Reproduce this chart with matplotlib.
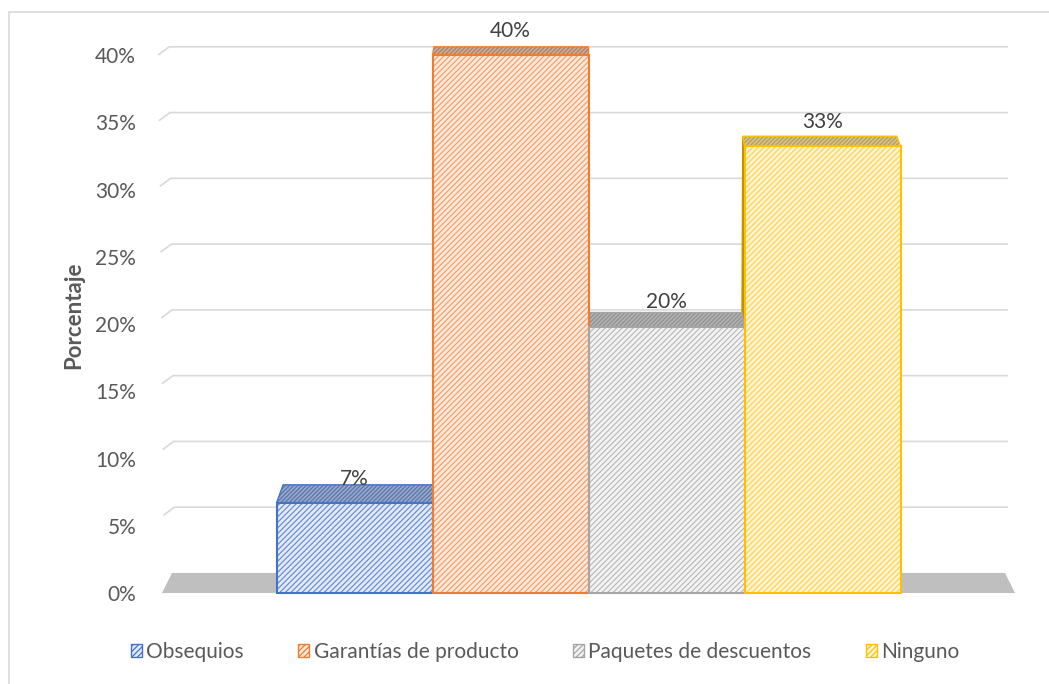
import numpy as np
import matplotlib
matplotlib.use("Agg")
import matplotlib.pyplot as plt
from matplotlib.patches import Polygon, Rectangle, Patch

plt.rcParams['font.family'] = ['Lato', 'DejaVu Sans']
plt.rcParams['hatch.linewidth'] = 0.9

# Data
categorias = ["Obsequios", "Garantías de producto", "Paquetes de descuentos", "Ninguno"]
valores = [6.7, 40.0, 19.8, 33.2]
etiquetas = ["7%", "40%", "20%", "33%"]
yticks = [0, 5, 10, 15, 20, 25, 30, 35, 40]

# Colours: edge, front fill, front hatch, top fill, top hatch
borde = ["#4472C4", "#ED7D31", "#A5A5A5", "#FFC000"]
relleno = ["#e3eaf7", "#fde8da", "#f3f3f3", "#fff5d6"]
trama = ["#6a8fd3", "#f2a36e", "#bdbdbd", "#ffd24d"]
tapa = ["#97a9cc", "#cfae98", "#b3b3b3", "#d6c48e"]
tapa_trama = ["#5a74a8", "#b27a58", "#8f8f8f", "#b39c4f"]

texto = "#595959"

# 3D look parameters (data units)
cx = 1.5          # perspective centre
prof0 = 1.49      # floor depth
def prof(v):
    return prof0 - 0.022 * v
def xback(x, v):
    return cx + (x - cx) * (1 - 0.0234 * prof(v) / prof0)

fig = plt.figure(figsize=(10.49, 6.84), dpi=100)
ax = fig.add_axes([150 / 1049, 84 / 684, 870 / 1049, 570 / 684])
ax.set_xlim(-1.311, 4.266)
ax.set_ylim(-0.52, 41.86)
for s in ax.spines.values():
    s.set_visible(False)

# outer chart border
fig.patches.append(Rectangle((9 / 1049, -0.1), 1.2, (684 - 12) / 684 + 0.1,
                             transform=fig.transFigure, fill=False,
                             edgecolor="#d9d9d9", linewidth=1.2))

# floor
x0, x1 = -1.234, 4.234
piso = Polygon([(x0, 0), (x1, 0), (xback(x1, 0), prof0), (xback(x0, 0), prof0)],
               closed=True, facecolor="#bfbfbf", edgecolor="none", zorder=1)
ax.add_patch(piso)

# back-wall gridlines
for v in yticks[1:]:
    yb = v + prof(v)
    xl = xback(x0, v) + 0.02
    ax.plot([xl - 0.07, xl, 4.189], [yb - 0.6, yb, yb], color="#d9d9d9",
            linewidth=1.2, zorder=0.5, solid_capstyle="butt")

x = np.arange(len(valores))

# side face of last bar (left side visible)
i = 3
xl = x[i] - 0.5
lado = Polygon([(xl, 0), (xl, valores[i]), (xback(xl, valores[i]), valores[i] + prof(valores[i])),
                (xback(xl, 0), prof0)], closed=True, facecolor="#bf9000",
               edgecolor="#bf9000", linewidth=0.8, zorder=1.9)
ax.add_patch(lado)

# top faces
for i, v in enumerate(valores):
    xl, xr = x[i] - 0.5, x[i] + 0.5
    pts = [(xl, v), (xr, v), (xback(xr, v), v + prof(v)), (xback(xl, v), v + prof(v))]
    ax.add_patch(Polygon(pts, closed=True, facecolor=tapa[i], edgecolor=tapa_trama[i],
                         linewidth=0, hatch="////////", zorder=2))
    ax.add_patch(Polygon(pts, closed=True, fill=False, edgecolor=borde[i],
                         linewidth=1.0, zorder=2.1))

# front faces
ax.bar(x, valores, width=1.0, color=relleno, edgecolor=trama, linewidth=0,
       hatch="//////", zorder=3)
ax.bar(x, valores, width=1.0, fill=False, edgecolor=borde, linewidth=1.5, zorder=3.1)

# data labels
for i, v in enumerate(valores):
    ax.text(x[i], v + 1.8, etiquetas[i], ha="center", va="center",
            fontsize=15, color="#404040", zorder=5)

# axes
ax.set_xticks([])
ax.set_yticks(yticks)
ax.set_yticklabels([f"{t}%" for t in yticks], fontsize=15, color=texto)
ax.tick_params(axis="y", length=0, pad=10)
ax.set_ylabel("Porcentaje", fontsize=16, fontweight="bold", color=texto, labelpad=8)

# legend
handles = [Patch(facecolor=relleno[i], edgecolor=borde[i], hatch="//////", linewidth=1.0)
           for i in range(4)]
fig.legend(handles, categorias, loc="center", bbox_to_anchor=(545 / 1049, 1 - 652 / 684),
           ncol=4, frameon=False, fontsize=15, labelcolor=texto,
           handlelength=0.55, handleheight=0.55, handletextpad=0.2, columnspacing=2.6)

fig.savefig("out.png", dpi=100)
